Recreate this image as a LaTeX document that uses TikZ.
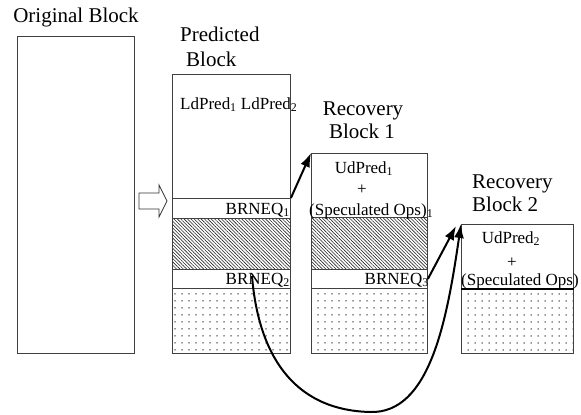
\documentclass[tikz,border=0pt]{standalone}
\usepackage{fontspec}
\setmainfont{Liberation Serif}
\usetikzlibrary{patterns,patterns.meta,arrows.meta}

\begin{document}
\begin{tikzpicture}[x=1pt,y=-1pt,
  box/.style={draw=black!75, line width=0.9pt, rectangle, inner sep=0pt, anchor=north west},
  plainbox/.style={box, fill=white},
  hatchbox/.style={box, pattern={Lines[angle=-45,distance=2.4pt,line width=0.6pt]}, pattern color=black!85},
  dotbox/.style={box, pattern={Dots[distance=6.5pt,radius=0.8pt]}, pattern color=black!85},
  title/.style={inner sep=0pt, font=\fontsize{21}{24}\selectfont},
  lbl/.style={inner sep=0pt, font=\fontsize{17}{20}\selectfont},
  jump/.style={line width=2pt, -{Latex[length=14pt,width=10pt]}},
]
\useasboundingbox (0,0) rectangle (581,415);

% original block
\node[plainbox, minimum width=117pt, minimum height=317pt] (orig) at (17,36) {};
\node[title, anchor=base] (origT) at (76,22) {Original Block};

% transformation arrow
\draw[black!80, line width=0.8pt, fill=white]
  (139,193) -- (159,193) -- (159,185) -- (167,201) -- (159,217) -- (159,209) -- (139,209) -- cycle;

% predicted block
\node[plainbox, minimum width=118pt, minimum height=124pt] (pbtop) at (172,74) {};
\node[plainbox, minimum width=118pt, minimum height=20pt] (pbbr1) at (172,198) {};
\node[hatchbox, minimum width=118pt, minimum height=51pt] (pbhatch) at (172,218) {};
\node[plainbox, minimum width=118pt, minimum height=19pt] (pbbr2) at (172,269) {};
\node[dotbox, minimum width=118pt, minimum height=65pt] (pbdots) at (172,288) {};
\node[title, anchor=base west] (pbT1) at (180,41) {Predicted};
\node[title, anchor=base west] (pbT2) at (186,66) {Block};
\node[lbl, anchor=base west] (ld) at (180,109) {LdPred\textsubscript{1} LdPred\textsubscript{2}};
\node[lbl, anchor=base east] (b1) at (290,214) {BRNEQ\textsubscript{1}};
\node[lbl, anchor=base east] (b2) at (290,284) {BRNEQ\textsubscript{2}};

% recovery block 1
\node[plainbox, minimum width=116pt, minimum height=64pt] (r1top) at (311,153) {};
\node[hatchbox, minimum width=116pt, minimum height=52pt] (r1hatch) at (311,217) {};
\node[plainbox, minimum width=116pt, minimum height=19pt] (r1br3) at (311,269) {};
\node[dotbox, minimum width=116pt, minimum height=65pt] (r1dots) at (311,288) {};
\node[title, anchor=base] (r1T1) at (363,115) {Recovery};
\node[title, anchor=base] (r1T2) at (362,138) {Block 1};
\node[lbl, anchor=base] (ud1) at (364,173) {UdPred\textsubscript{1}};
\node[lbl] (plus1) at (362,190) {+};
\node[lbl, anchor=base west] (sp1) at (309,215) {(Speculated Ops)\textsubscript{1}};
\node[lbl, anchor=base east] (b3) at (429,284) {BRNEQ\textsubscript{3}};

% recovery block 2
\node[plainbox, minimum width=112pt, minimum height=65pt] (r2top) at (461,224) {};
\node[dotbox, minimum width=112pt, minimum height=64pt] (r2dots) at (461,289) {};
\draw[line width=1.4pt] (r2dots.north west) -- (r2dots.north east);
\node[title, anchor=base west] (r2T1) at (472,188) {Recovery};
\node[title, anchor=base west] (r2T2) at (472,211) {Block 2};
\node[lbl, anchor=base] (ud2) at (511,243) {UdPred\textsubscript{2}};
\node[lbl] (plus2) at (512,263) {+};
\node[lbl, anchor=base west] (sp2) at (461,285) {(Speculated Ops)};

% branch targets
\coordinate (src2) at (252,276);
\coordinate (tgt2) at ([xshift=-5pt,yshift=-2pt]r2top.north west);
\draw[jump] (pbbr1.north east) -- (r1top.north west);
\draw[jump] (r1br3.east) -- (tgt2);
\draw[jump] (src2) .. controls (258,350) and (290,410) .. (370,412)
  .. controls (430,414) and (447,320) .. (r2top.north west);
\end{tikzpicture}
\end{document}
